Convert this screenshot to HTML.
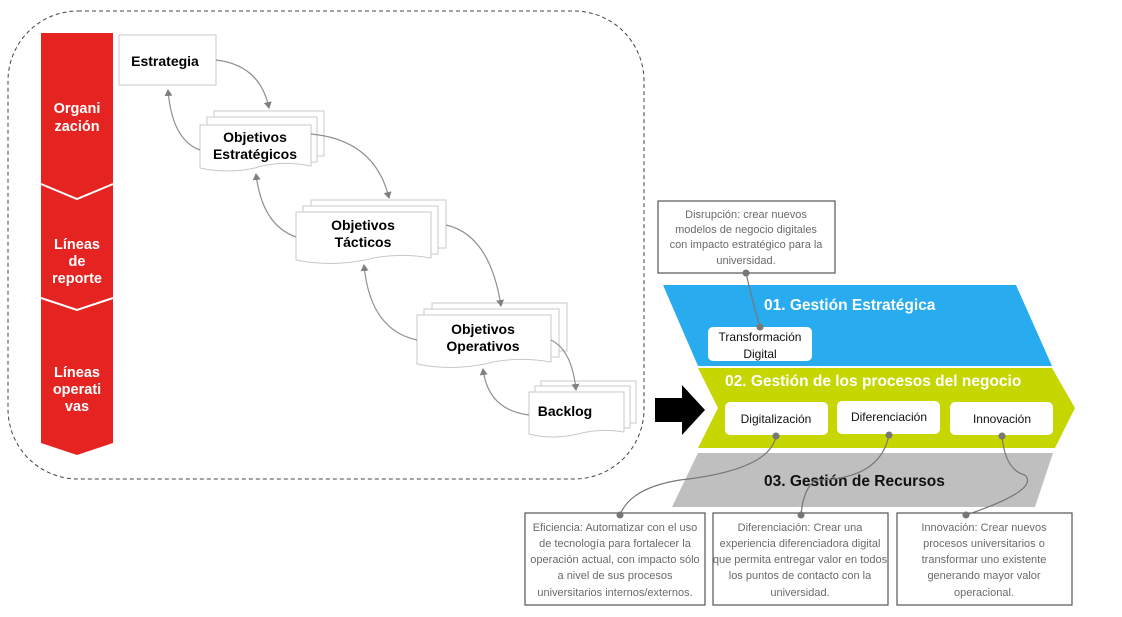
<!DOCTYPE html>
<html><head><meta charset="utf-8"><style>
html,body{margin:0;padding:0;background:#fff;}
svg{display:block;}
text{font-family:"Liberation Sans",sans-serif;}
</style></head><body>
<svg width="1122" height="617" viewBox="0 0 1122 617" xmlns="http://www.w3.org/2000/svg">
<defs>
<marker id="ah" markerWidth="8" markerHeight="8" refX="6" refY="4" orient="auto" markerUnits="userSpaceOnUse">
<path d="M0,0 L7,4 L0,8 z" fill="#808080"/></marker>
</defs>
<rect x="8" y="11" width="636" height="468" rx="70" ry="70" fill="none" stroke="#444" stroke-width="1" stroke-dasharray="4,3"/>
<path d="M41,33 H113 V443 L77,455 L41,443 Z" fill="#e52421"/>
<polyline points="41,184 77,199 113,184" fill="none" stroke="#fff" stroke-width="2"/>
<polyline points="41,298 77,310 113,298" fill="none" stroke="#fff" stroke-width="2"/>
<g fill="#fff" font-weight="bold" font-size="14.5" text-anchor="middle">
<text x="77" y="113">Organi</text><text x="77" y="131">zación</text>
<text x="77" y="249">Líneas</text><text x="77" y="266">de</text><text x="77" y="283">reporte</text>
<text x="77" y="377">Líneas</text><text x="77" y="394">operati</text><text x="77" y="411">vas</text>
</g>
<g fill="#fff" stroke="#c8c8c8" stroke-width="1">
<rect x="119" y="35" width="97" height="50"/>
<rect x="214" y="111" width="110" height="45"/><rect x="207" y="117" width="110" height="45"/>
<path d="M200,125 H311 V166 Q280,160 255,168 Q228,174 200,168 Z"/>
<rect x="311" y="200" width="135" height="48"/><rect x="303" y="206" width="135" height="48"/>
<path d="M296,212 H431 V258 Q395,252 365,260 Q330,267 296,260 Z"/>
<rect x="432" y="303" width="135" height="48"/><rect x="424" y="309" width="135" height="48"/>
<path d="M417,315 H551 V362 Q515,356 485,364 Q450,371 417,364 Z"/>
<rect x="541" y="381" width="95" height="42"/><rect x="535" y="386" width="95" height="42"/>
<path d="M529,392 H624 V432 Q600,428 578,434 Q552,440 529,434 Z"/>
</g>
<g fill="#000" font-weight="bold" font-size="14" text-anchor="middle">
<text x="165" y="66">Estrategia</text>
<text x="255" y="142">Objetivos</text><text x="255" y="159">Estratégicos</text>
<text x="363" y="230">Objetivos</text><text x="363" y="247">Tácticos</text>
<text x="483" y="334">Objetivos</text><text x="483" y="351">Operativos</text>
<text x="565" y="416">Backlog</text>
</g>
<g fill="none" stroke="#909090" stroke-width="1.2" marker-end="url(#ah)">
<path d="M216,60 Q260,65 269,108"/>
<path d="M200,150 Q172,140 168,90"/>
<path d="M311,134 Q375,140 389,198"/>
<path d="M296,237 Q262,225 256,174"/>
<path d="M446,225 Q490,235 501,306"/>
<path d="M417,340 Q370,330 364,265"/>
<path d="M551,340 Q572,350 576,390"/>
<path d="M529,415 Q488,410 483,369"/>
</g>
<path d="M655,398 H682 V385 L705,410 L682,435 V422 H655 Z" fill="#000"/>
<path d="M663,285 H1016 L1052,366 H698 Z" fill="#29abf0"/>
<path d="M698,368 H1052 L1075,408 L1055,448 H698 L718,408 Z" fill="#c5d600"/>
<path d="M698,453 H1053 L1035,507 H672 Z" fill="#bfbfbf"/>
<g font-weight="bold" font-size="15.5">
<text x="764" y="310" fill="#fff">01. Gestión Estratégica</text>
<text x="725" y="386" fill="#fff">02. Gestión de los procesos del negocio</text>
<text x="764" y="486" fill="#111">03. Gestión de Recursos</text>
</g>
<g fill="#fff">
<rect x="708" y="327" width="104" height="34" rx="5"/>
<rect x="725" y="402" width="103" height="33" rx="5"/>
<rect x="837" y="401" width="103" height="33" rx="5"/>
<rect x="950" y="402" width="103" height="33" rx="5"/>
</g>
<g font-size="12" fill="#111" text-anchor="middle">
<text x="760" y="341">Transformación</text><text x="760" y="358">Digital</text>
<text x="776" y="423">Digitalización</text>
<text x="889" y="421">Diferenciación</text>
<text x="1002" y="423">Innovación</text>
</g>
<g fill="#fff" stroke="#555" stroke-width="1.2">
<rect x="658" y="201" width="177" height="72"/>
<rect x="525" y="513" width="180" height="92"/>
<rect x="713" y="513" width="175" height="92"/>
<rect x="897" y="513" width="175" height="92"/>
</g>
<g fill="none" stroke="#777" stroke-width="1.2">
<path d="M746,273 Q752,300 760,327"/>
<path d="M776,436 Q770,470 680,480 Q630,488 620,515"/>
<path d="M889,435 Q880,480 815,480 Q803,490 801,515"/>
<path d="M1002,436 Q1005,470 1025,475 Q1040,490 966,515"/>
</g>
<g fill="#777">
<circle cx="746" cy="273" r="3.5"/><circle cx="760" cy="327" r="3.5"/>
<circle cx="776" cy="436" r="3.5"/><circle cx="889" cy="435" r="3.5"/><circle cx="1002" cy="436" r="3.5"/>
<circle cx="620" cy="515" r="3.5"/><circle cx="801" cy="515" r="3.5"/><circle cx="966" cy="515" r="3.5"/>
</g>
<g font-size="11" fill="#6a6a6a" text-anchor="middle">
<text x="746" y="218">Disrupción: crear nuevos</text>
<text x="746" y="233">modelos de negocio digitales</text>
<text x="746" y="248">con impacto estratégico para la</text>
<text x="746" y="264">universidad.</text>
</g>
<g font-size="11" fill="#6a6a6a" text-anchor="middle">
<text x="615" y="531">Eficiencia: Automatizar con el uso</text>
<text x="615" y="547">de tecnología para fortalecer la</text>
<text x="615" y="563">operación actual, con impacto sólo</text>
<text x="615" y="579">a nivel de sus procesos</text>
<text x="615" y="596">universitarios internos/externos.</text>
<text x="800" y="531">Diferenciación: Crear una</text>
<text x="800" y="547">experiencia diferenciadora digital</text>
<text x="800" y="563">que permita entregar valor en todos</text>
<text x="800" y="579">los puntos de contacto con la</text>
<text x="800" y="596">universidad.</text>
<text x="984" y="531">Innovación: Crear nuevos</text>
<text x="984" y="547">procesos universitarios o</text>
<text x="984" y="563">transformar uno existente</text>
<text x="984" y="579">generando mayor valor</text>
<text x="984" y="596">operacional.</text>
</g>
</svg>
</body></html>
